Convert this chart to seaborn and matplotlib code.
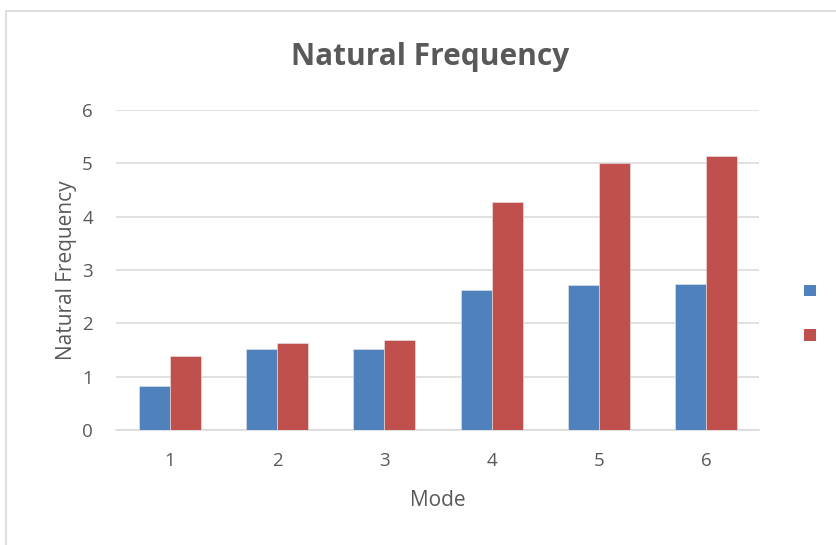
import pandas as pd
import matplotlib
matplotlib.use("Agg")
import matplotlib.pyplot as plt
import seaborn as sns
from matplotlib.patches import Rectangle, Patch

modes = ["1", "2", "3", "4", "5", "6"]
series1 = [0.82, 1.51, 1.52, 2.62, 2.72, 2.74]
series2 = [1.39, 1.64, 1.69, 4.28, 5.00, 5.14]
series_names = ["Series1", "Series2"]
yticks = [0, 1, 2, 3, 4, 5, 6]

df = pd.DataFrame({
    "Mode": modes * 2,
    "Value": series1 + series2,
    "Series": [series_names[0]] * len(modes) + [series_names[1]] * len(modes),
})

sns.set_style("white")
plt.rcParams['font.family'] = ['Open Sans', 'DejaVu Sans']
txt = "#595959"
col = ["#4F81BD", "#C0504D"]

fig = plt.figure(figsize=(8.37, 5.45), dpi=100)
ax = fig.add_axes([116.5 / 837, 1 - 430 / 545, 643 / 837, 320 / 545])

# chart border like excel
fig.patches.append(Rectangle((6 / 837, -0.1), 1.2, 1 - 11 / 545 + 0.1, transform=fig.transFigure,
                             fill=False, edgecolor="#d9d9d9", linewidth=1.2))

sns.barplot(data=df, x="Mode", y="Value", hue="Series", palette=col, width=0.58, gap=0,
            saturation=1, edgecolor="#e8e8e8", linewidth=0.4, ax=ax, legend=False, zorder=3)

ax.set_ylim(0, 6)
ax.set_xlim(-0.5, 5.5)
ax.set_yticks(yticks)
ax.yaxis.grid(True, color="#d9d9d9", linewidth=1.1, zorder=0)
ax.set_axisbelow(True)
for s in ["top", "right", "left"]:
    ax.spines[s].set_visible(False)
ax.spines["bottom"].set_color("#d9d9d9")
ax.spines["bottom"].set_linewidth(1.1)
ax.tick_params(axis="both", length=0, labelsize=13.5, labelcolor=txt)
ax.tick_params(axis="x", pad=16)
ax.tick_params(axis="y", pad=17)

ax.set_xlabel("Mode", fontsize=15, color=txt, labelpad=14)
ax.set_ylabel("Natural Frequency", fontsize=15, color=txt, labelpad=4)
fig.text(430 / 837, 1 - 57 / 545, "Natural Frequency", ha="center", va="center",
         fontsize=21.5, fontweight="bold", color=txt)

handles = [Patch(facecolor=c, edgecolor="none") for c in col]
fig.legend(handles, ["", ""], loc="center", bbox_to_anchor=(810 / 837, 1 - 314 / 545),
           frameon=False, handlelength=0.9, handleheight=0.9, labelspacing=2.1, handletextpad=0)

fig.savefig("out.png", dpi=100)
